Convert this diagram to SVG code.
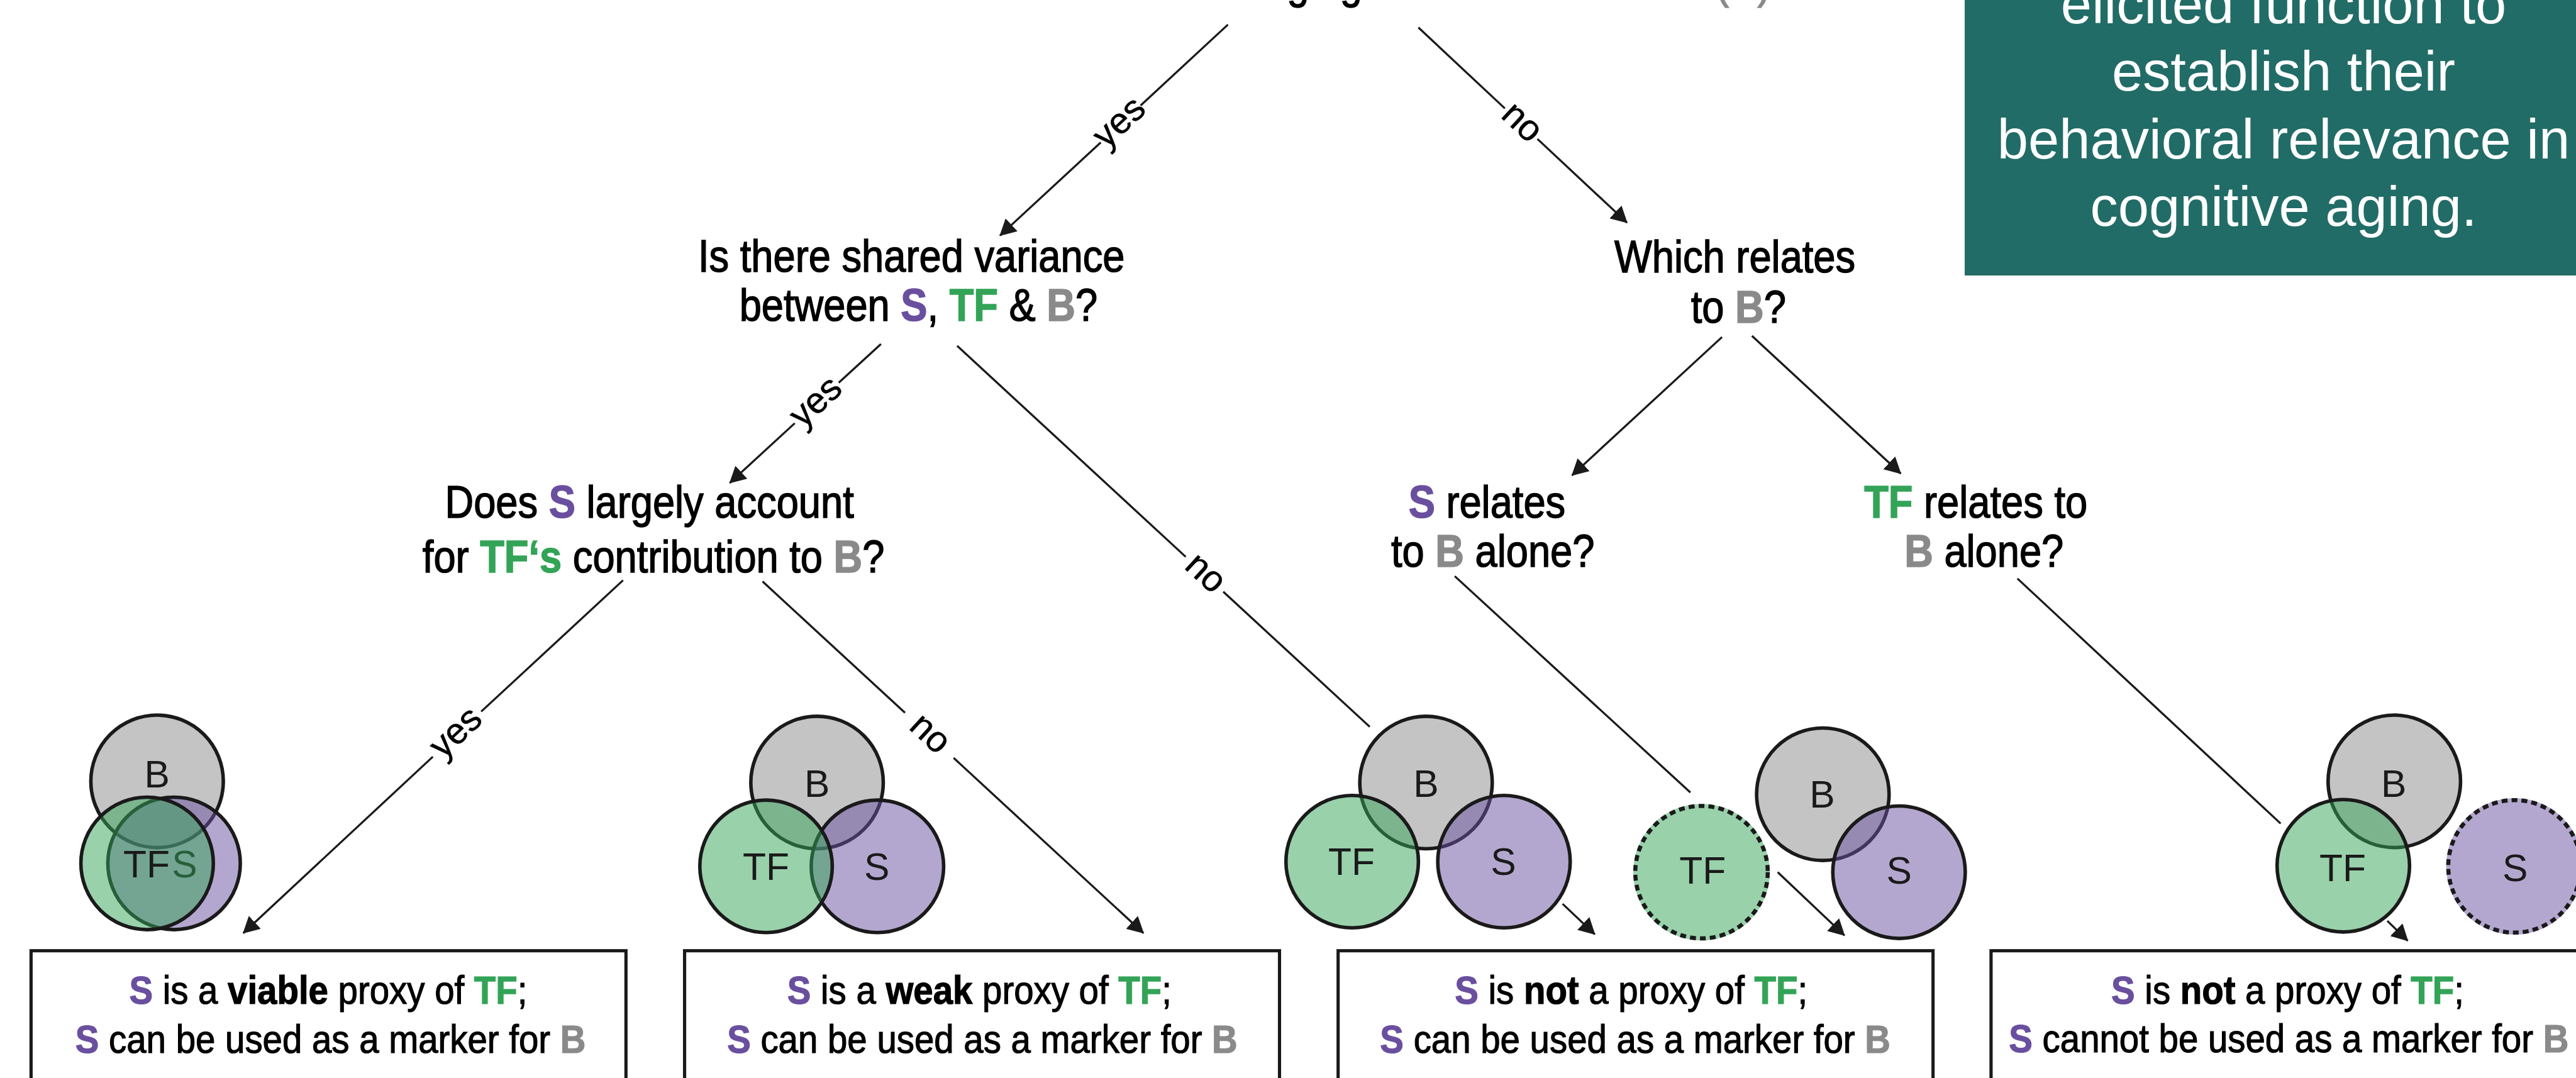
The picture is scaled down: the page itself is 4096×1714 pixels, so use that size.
<svg xmlns="http://www.w3.org/2000/svg" width="4096" height="1714" viewBox="0 0 4096 1714">
<style>
text { font-family: "Liberation Sans", Arial, sans-serif; }
.q { font-size: 78px; fill: #000; stroke: #000; stroke-width: 1.6; text-anchor: middle; }
.bt { font-size: 68px; fill: #000; stroke: #000; stroke-width: 1.3; text-anchor: middle; }
.b { font-weight: bold; }
.s { fill: #6a4f9f; stroke: #6a4f9f; }
.tf { fill: #33a457; stroke: #33a457; }
.gr { fill: #8a8a8a; stroke: #8a8a8a; }
.lbl { font-size: 62px; fill: #000; stroke: #000; stroke-width: 0.6; text-anchor: middle; }
.box { fill: #fff; stroke: #1a1a1a; stroke-width: 5.5; }
.ln { stroke: #1a1a1a; stroke-width: 3.5; fill: none; stroke-linecap: butt; }
.ar { marker-end: url(#arr); }
.cB { fill: #8a8a8a; fill-opacity: 0.5; stroke: #1a1a1a; stroke-width: 6; }
.cS { fill: #6a4f9f; fill-opacity: 0.5; stroke: #1a1a1a; stroke-width: 6; }
.cT { fill: #33a457; fill-opacity: 0.5; stroke: #1a1a1a; stroke-width: 6; }
.dash { fill: none; stroke: #1a1a1a; stroke-width: 7; stroke-dasharray: 10 7; }
.vl { font-size: 65px; fill: #1a1a1a; text-anchor: middle; }
.teal { font-size: 95px; fill: #fff; text-anchor: middle; }
</style>
<defs>
<marker id="arr" markerUnits="userSpaceOnUse" markerWidth="30" markerHeight="30" refX="27" refY="15" orient="auto" viewBox="0 0 30 30">
<path d="M0,0 L28,15 L0,30 Z" fill="#1a1a1a"/>
</marker>
</defs>
<g transform="scale(0.93197)">
<rect x="0" y="0" width="4395" height="1839" fill="#fff"/>

<g id="top-question">
<text class="q" transform="translate(2158,-3) scale(0.87,1)" style="text-anchor:start">aging</text>
<text class="q gr" transform="translate(2927,-3) scale(0.87,1)" style="text-anchor:start">(<tspan class="b">B</tspan>)</text>
</g>

<g id="note">
<rect x="3352" y="-10" width="1100" height="480" fill="#216c66"/>
<text class="teal" x="3896" y="40">elicited function to</text>
<text class="teal" x="3896" y="155">establish their</text>
<text class="teal" x="3896" y="270">behavioral relevance in</text>
<text class="teal" x="3896" y="385">cognitive aging.</text>
</g>

<g id="connectors">
<line class="ln" x1="2095" y1="42" x2="1946" y2="180"/>
<line class="ln ar" x1="1878" y1="243" x2="1706" y2="402"/>
<text class="lbl" transform="translate(1912,211) rotate(-42.8)" dy="16">yes</text>

<line class="ln" x1="2420" y1="47" x2="2567.5" y2="185"/>
<line class="ln ar" x1="2623" y1="237" x2="2776" y2="380"/>
<text class="lbl" transform="translate(2595,211) rotate(43.1)" dy="16">no</text>

<line class="ln" x1="1503" y1="587" x2="1431" y2="653"/>
<line class="ln ar" x1="1356" y1="722" x2="1245" y2="824"/>
<text class="lbl" transform="translate(1394,688) rotate(-42.6)" dy="16">yes</text>

<line class="ln" x1="1633" y1="590" x2="2023" y2="950"/>
<line class="ln" x1="2087" y1="1009.5" x2="2337" y2="1240"/>
<text class="lbl" transform="translate(2055,980) rotate(42.7)" dy="16">no</text>

<line class="ln" x1="1063" y1="990" x2="821" y2="1214"/>
<line class="ln ar" x1="738.5" y1="1291" x2="415" y2="1592"/>
<text class="lbl" transform="translate(780,1252) rotate(-43)" dy="16">yes</text>

<line class="ln" x1="1301" y1="992" x2="1544" y2="1216"/>
<line class="ln ar" x1="1627" y1="1293" x2="1951" y2="1592"/>
<text class="lbl" transform="translate(1585,1254) rotate(42.7)" dy="16">no</text>

<line class="ln ar" x1="2938" y1="575" x2="2682" y2="811"/>
<line class="ln ar" x1="2989" y1="573" x2="3243" y2="808"/>
<line class="ln" x1="2482" y1="983" x2="2884" y2="1352"/>
<line class="ln" x1="3442" y1="987" x2="3891" y2="1405"/>
<line class="ln ar" x1="2666" y1="1542" x2="2721" y2="1594"/>
<line class="ln ar" x1="3033" y1="1488" x2="3147" y2="1596"/>
<line class="ln ar" x1="4073" y1="1571" x2="4108" y2="1605"/>
</g>

<g id="q-shared">
<text class="q" transform="translate(1555,463) scale(0.87,1)">Is there shared variance</text>
<text class="q" transform="translate(1567,547) scale(0.87,1)">between <tspan class="b s">S</tspan>, <tspan class="b tf">TF</tspan> &amp; <tspan class="b gr">B</tspan>?</text>
</g>
<g id="q-which">
<text class="q" transform="translate(2960,465) scale(0.87,1)">Which relates</text>
<text class="q" transform="translate(2966,550) scale(0.87,1)">to <tspan class="b gr">B</tspan>?</text>
</g>
<g id="q-account">
<text class="q" transform="translate(1108,883) scale(0.87,1)">Does <tspan class="b s">S</tspan> largely account</text>
<text class="q" transform="translate(1115,976) scale(0.87,1)">for <tspan class="b tf">TF‘s</tspan> contribution to <tspan class="b gr">B</tspan>?</text>
</g>
<g id="q-s-alone">
<text class="q" transform="translate(2537,883) scale(0.87,1)"><tspan class="b s">S</tspan> relates</text>
<text class="q" transform="translate(2547,967) scale(0.87,1)">to <tspan class="b gr">B</tspan> alone?</text>
</g>
<g id="q-tf-alone">
<text class="q" transform="translate(3371,883) scale(0.87,1)"><tspan class="b tf">TF</tspan> relates to</text>
<text class="q" transform="translate(3385,967) scale(0.87,1)"><tspan class="b gr">B</tspan> alone?</text>
</g>

<g id="venn1">
<circle class="cB" cx="268" cy="1333" r="113"/>
<text class="vl" x="268" y="1343">B</text>
<circle class="cS" cx="297" cy="1473" r="113"/>
<text class="vl" x="315" y="1497">S</text>
<circle class="cT" cx="251" cy="1473" r="113"/>
<text class="vl" x="250" y="1497">TF</text>
</g>
<g id="venn2">
<circle class="cB" cx="1394" cy="1335" r="113"/>
<text class="vl" x="1394" y="1359">B</text>
<circle class="cS" cx="1497" cy="1478" r="113"/>
<text class="vl" x="1496" y="1501">S</text>
<circle class="cT" cx="1307" cy="1478" r="113"/>
<text class="vl" x="1307" y="1501">TF</text>
</g>
<g id="venn3">
<circle class="cB" cx="2433" cy="1335" r="113"/>
<text class="vl" x="2433" y="1359">B</text>
<circle class="cS" cx="2566" cy="1470" r="113"/>
<text class="vl" x="2565" y="1493">S</text>
<circle class="cT" cx="2307" cy="1470" r="113"/>
<text class="vl" x="2306" y="1493">TF</text>
</g>
<g id="venn3b">
<circle class="cB" cx="3110" cy="1355" r="113"/>
<text class="vl" x="3109" y="1378">B</text>
<circle class="cS" cx="3240" cy="1488" r="113"/>
<text class="vl" x="3240" y="1508">S</text>
<circle cx="2903" cy="1488" r="113" fill="#99d1aa" stroke="#99d1aa" stroke-width="7"/>
<circle class="dash" cx="2903" cy="1488" r="113"/>
<text class="vl" x="2905" y="1508">TF</text>
</g>
<g id="venn4">
<circle class="cB" cx="4085" cy="1333" r="113"/>
<text class="vl" x="4084" y="1359">B</text>
<circle cx="4290" cy="1478" r="113" fill="#b4a7cf" stroke="#b4a7cf" stroke-width="7"/>
<circle class="dash" cx="4290" cy="1478" r="113"/>
<text class="vl" x="4291" y="1503">S</text>
<circle class="cT" cx="3998" cy="1477" r="113"/>
<text class="vl" x="3997" y="1503">TF</text>
</g>

<g id="result1">
<rect class="box" x="53" y="1622" width="1015" height="320"/>
<text class="bt" transform="translate(560,1712) scale(0.89,1)"><tspan class="b s">S</tspan> is a <tspan class="b">viable</tspan> proxy of <tspan class="b tf">TF</tspan>;</text>
<text class="bt" transform="translate(564,1796) scale(0.89,1)"><tspan class="b s">S</tspan> can be used as a marker for <tspan class="b gr">B</tspan></text>
</g>
<g id="result2">
<rect class="box" x="1168" y="1622" width="1015" height="320"/>
<text class="bt" transform="translate(1671,1712) scale(0.89,1)"><tspan class="b s">S</tspan> is a <tspan class="b">weak</tspan> proxy of <tspan class="b tf">TF</tspan>;</text>
<text class="bt" transform="translate(1676,1796) scale(0.89,1)"><tspan class="b s">S</tspan> can be used as a marker for <tspan class="b gr">B</tspan></text>
</g>
<g id="result3">
<rect class="box" x="2283" y="1622" width="1015" height="320"/>
<text class="bt" transform="translate(2783,1712) scale(0.89,1)"><tspan class="b s">S</tspan> is <tspan class="b">not</tspan> a proxy of <tspan class="b tf">TF</tspan>;</text>
<text class="bt" transform="translate(2790,1796) scale(0.89,1)"><tspan class="b s">S</tspan> can be used as a marker for <tspan class="b gr">B</tspan></text>
</g>
<g id="result4">
<rect class="box" x="3397" y="1622" width="1015" height="320"/>
<text class="bt" transform="translate(3903,1713) scale(0.89,1)"><tspan class="b s">S</tspan> is <tspan class="b">not</tspan> a proxy of <tspan class="b tf">TF</tspan>;</text>
<text class="bt" transform="translate(3905,1795) scale(0.89,1)"><tspan class="b s">S</tspan> cannot be used as a marker for <tspan class="b gr">B</tspan></text>
</g>
</g>
</svg>
